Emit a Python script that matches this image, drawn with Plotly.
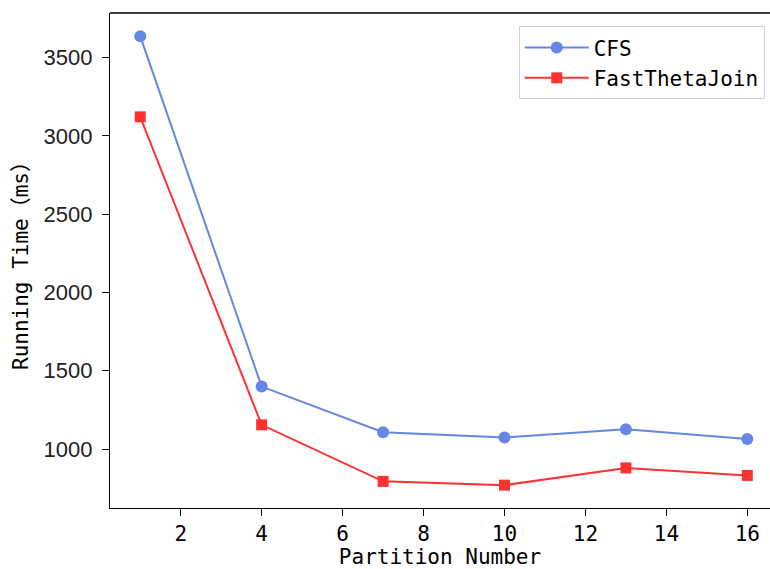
import plotly.graph_objects as go

partitions = [1, 4, 7, 10, 13, 16]
cfs_ms = [3636, 1399, 1108, 1074, 1127, 1064]
ftj_ms = [3121, 1155, 794, 770, 880, 832]
x_ticks = [2, 4, 6, 8, 10, 12, 14, 16]
y_ticks = [1000, 1500, 2000, 2500, 3000, 3500]

mono = "DejaVu Sans Mono, Noto Sans CJK SC"
sans = "Liberation Sans, Arial, sans-serif"

fig = go.Figure()
fig.add_trace(go.Scatter(
    x=partitions, y=cfs_ms, name="CFS", mode="lines+markers",
    line=dict(color="royalblue", width=2),
    marker=dict(symbol="circle", size=12, color="royalblue"),
    opacity=0.8,
))
fig.add_trace(go.Scatter(
    x=partitions, y=ftj_ms, name="FastThetaJoin", mode="lines+markers",
    line=dict(color="red", width=2),
    marker=dict(symbol="square", size=11, color="red"),
    opacity=0.8,
))

fig.update_layout(
    width=770, height=569,
    margin=dict(l=110, r=0, t=13, b=61, autoexpand=False),
    paper_bgcolor="white", plot_bgcolor="white",
    showlegend=True,
    legend=dict(
        x=0.992, y=0.973, xanchor="right", yanchor="top",
        bgcolor="rgba(255,255,255,0.8)", bordercolor="#d0d0d0", borderwidth=1,
        font=dict(family=mono, size=21, color="black"),
        itemwidth=64,
    ),
    xaxis=dict(
        range=[0.253, 16.56], tickvals=x_ticks, ticktext=[str(v) for v in x_ticks],
        showgrid=False, zeroline=False, automargin=False,
        showline=True, linecolor="black", linewidth=1.3,
        ticks="outside", ticklen=7, tickwidth=1.3, tickcolor="black",
        tickfont=dict(family=mono, size=21, color="black"),
        title=dict(text="Partition Number", font=dict(family=mono, size=21, color="black"), standoff=2),
    ),
    yaxis=dict(
        range=[624, 3784], tickvals=y_ticks, ticktext=[str(v) for v in y_ticks],
        showgrid=False, zeroline=False, automargin=False,
        showline=True, linecolor="black", linewidth=1.3,
        ticks="outside", ticklen=7, tickwidth=1.3, tickcolor="black",
        tickfont=dict(family=sans, size=22, color="#222222"),
        ticklabelstandoff=5,
        title=dict(text="Running Time（ms）", font=dict(family=mono, size=21, color="black"), standoff=9),
    ),
)
# top spine
fig.add_shape(type="line", xref="paper", yref="paper", x0=0, x1=1, y0=1, y1=1,
              line=dict(color="black", width=1.3))

fig.write_html("out.html", config={"displayModeBar": False},
               post_script="document.body.style.margin='0';document.body.style.overflow='hidden';")
